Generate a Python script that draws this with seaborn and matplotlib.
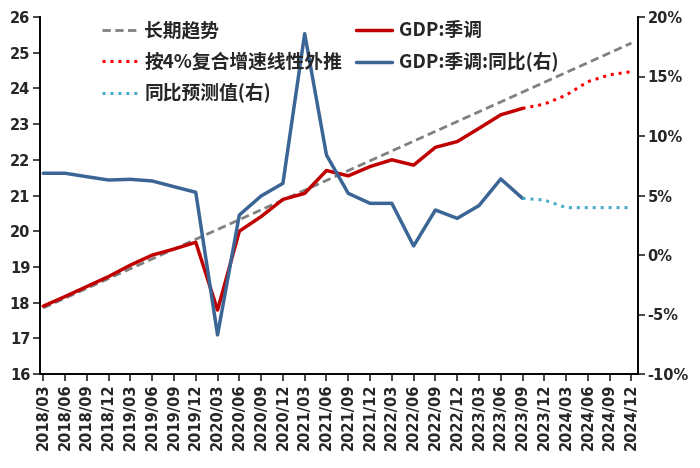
import numpy as np
import pandas as pd
import matplotlib
matplotlib.use("Agg")
import matplotlib.pyplot as plt
import seaborn as sns
from matplotlib.ticker import MultipleLocator, FuncFormatter

sns.set_style("ticks")
plt.rcParams['font.family'] = ['Noto Sans CJK SC', 'DejaVu Sans']
plt.rcParams['axes.unicode_minus'] = False

# x 轴季度
quarters = ["2018/03", "2018/06", "2018/09", "2018/12",
            "2019/03", "2019/06", "2019/09", "2019/12",
            "2020/03", "2020/06", "2020/09", "2020/12",
            "2021/03", "2021/06", "2021/09", "2021/12",
            "2022/03", "2022/06", "2022/09", "2022/12",
            "2023/03", "2023/06", "2023/09", "2023/12",
            "2024/03", "2024/06", "2024/09", "2024/12"]

# GDP:季调 (左轴) 2018/03 - 2023/09
gdp_sa = [17.90, 18.17, 18.45, 18.73, 19.05, 19.33, 19.50, 19.69,
          17.79, 20.00, 20.41, 20.89, 21.06, 21.70, 21.55, 21.81,
          22.00, 21.85, 22.35, 22.51, 22.88, 23.26, 23.44]
# 按4%复合增速线性外推 2023/09 - 2024/12
extrap_q = ["2023/09", "2023/12", "2024/03", "2024/06", "2024/09", "2024/12"]
gdp_extrap = [23.44, 23.56, 23.81, 24.19, 24.38, 24.47]
# 长期趋势 (直线, 两端点)
trend_q = ["2018/03", "2024/12"]
trend_vals = [17.85, 25.27]

# GDP:季调:同比 (右轴, %)
yoy = [6.87, 6.87, 6.58, 6.30, 6.36, 6.22, 5.74, 5.27,
       -6.72, 3.36, 4.96, 6.02, 18.6, 8.40, 5.18, 4.34,
       4.34, 0.76, 3.78, 3.08, 4.15, 6.39, 4.76]
# 同比预测值(右)
yoy_fc = [4.76, 4.62, 3.98, 3.98, 3.98, 3.98]

pos = {q: i for i, q in enumerate(quarters)}
df_gdp = pd.DataFrame({"x": [pos[q] for q in quarters[:len(gdp_sa)]], "v": gdp_sa})
df_yoy = pd.DataFrame({"x": [pos[q] for q in quarters[:len(yoy)]], "v": yoy})
df_ext = pd.DataFrame({"x": [pos[q] for q in extrap_q], "v": gdp_extrap})
df_yfc = pd.DataFrame({"x": [pos[q] for q in extrap_q], "v": yoy_fc})
df_trend = pd.DataFrame({"x": [pos[q] for q in trend_q], "v": trend_vals})

fig = plt.figure(figsize=(7, 4.68), dpi=100)
ax = fig.add_axes([40 / 700, 1 - 374 / 468, 598 / 700, 357 / 468])
ax2 = ax.twinx()

sns.lineplot(data=df_trend, x="x", y="v", ax=ax, color="#808080", lw=2,
             linestyle=(0, (3, 1.6)), label="长期趋势", legend=False)
sns.lineplot(data=df_ext, x="x", y="v", ax=ax, color="#FF0000", lw=2.2,
             linestyle=(0, (1, 1.6)), label="按4%复合增速线性外推", legend=False)
sns.lineplot(data=df_gdp, x="x", y="v", ax=ax, color="#C00000", lw=2.5,
             label="GDP:季调", legend=False)
sns.lineplot(data=df_yoy, x="x", y="v", ax=ax2, color="#3A6595", lw=2.5,
             label="GDP:季调:同比(右)", legend=False)
sns.lineplot(data=df_yfc, x="x", y="v", ax=ax2, color="#4BACC6", lw=2.2,
             linestyle=(0, (1, 1.6)), label="同比预测值(右)", legend=False)

ax.set_xlim(-0.15, 27.3)
ax.set_ylim(16, 26)
ax2.set_ylim(-10, 20)
ax.yaxis.set_major_locator(MultipleLocator(1))
ax2.yaxis.set_major_locator(MultipleLocator(5))
ax2.yaxis.set_major_formatter(FuncFormatter(lambda v, p: f"{v:.0f}%"))
ax.set_xticks(range(len(quarters)))
ax.set_xticklabels(quarters, rotation=90)
ax.set_xlabel("")
ax.set_ylabel("")
ax2.set_ylabel("")

for a in (ax, ax2):
    a.spines["top"].set_visible(False)
    for s in a.spines.values():
        s.set_linewidth(1.2)
        s.set_color("black")
ax.tick_params(axis="both", direction="out", length=5, width=1.2, pad=2)
ax2.tick_params(axis="y", direction="out", length=5, width=1.2, pad=2)
for lab in ax.get_xticklabels() + ax.get_yticklabels() + ax2.get_yticklabels():
    lab.set_fontfamily("DejaVu Sans")
    lab.set_fontweight("bold")
    lab.set_fontsize(10.5)

h1, l1 = ax.get_legend_handles_labels()
h2, l2 = ax2.get_legend_handles_labels()
hd = dict(zip(l1 + l2, h1 + h2))
order = ["长期趋势", "按4%复合增速线性外推", "同比预测值(右)", "GDP:季调", "GDP:季调:同比(右)"]
ax2.legend([hd[k] for k in order], order, loc="upper left", ncol=2,
           bbox_to_anchor=(0.104, 0.988), frameon=False, borderpad=0,
           borderaxespad=0, handlelength=1.9, handletextpad=0.35,
           columnspacing=0.75, labelspacing=0.64,
           prop=dict(family=['Noto Sans CJK SC', 'DejaVu Sans'], weight="bold", size=13.5))

fig.savefig("out.png", dpi=100)
